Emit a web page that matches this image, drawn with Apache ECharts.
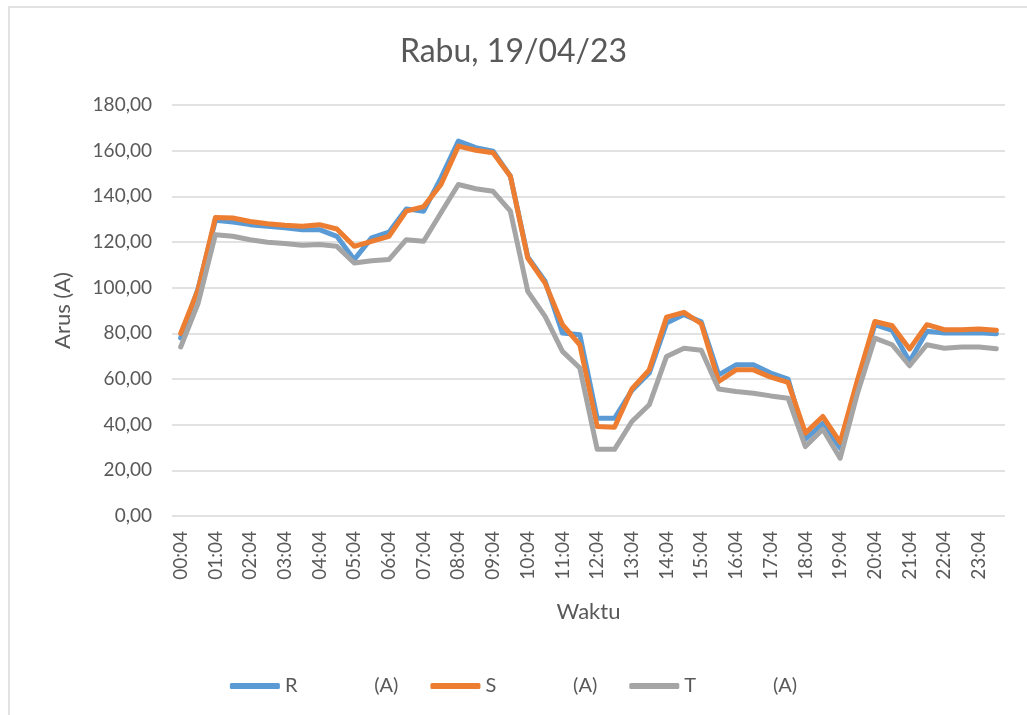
<!DOCTYPE html>
<html>
<head>
<meta charset="utf-8">
<title>Rabu, 19/04/23</title>
<script src="https://cdn.jsdelivr.net/npm/echarts@6/dist/echarts.min.js"></script>
<style>
  html, body { margin: 0; padding: 0; background: #fff; }
  #chart { width: 1027px; height: 715px; }
</style>
</head>
<body>
<div id="chart"></div>
<script>
// waktu pengukuran (tiap 30 menit)
const waktu = [
  '00:04', '00:34', '01:04', '01:34', '02:04', '02:34', '03:04', '03:34',
  '04:04', '04:34', '05:04', '05:34', '06:04', '06:34', '07:04', '07:34',
  '08:04', '08:34', '09:04', '09:34', '10:04', '10:34', '11:04', '11:34',
  '12:04', '12:34', '13:04', '13:34', '14:04', '14:34', '15:04', '15:34',
  '16:04', '16:34', '17:04', '17:34', '18:04', '18:34', '19:04', '19:34',
  '20:04', '20:34', '21:04', '21:34', '22:04', '22:34', '23:04', '23:34'
]

// arus fasa R (A)
const arusR = [
  78.0, 99.5, 129.5, 128.7, 127.6, 126.9, 126.2, 125.4,
  125.4, 122.5, 112.3, 121.8, 124.3, 134.5, 133.5, 148.1,
  164.2, 161.3, 159.8, 148.8, 113.5, 102.8, 80.1, 79.4,
  42.8, 42.8, 55.0, 62.6, 84.5, 88.2, 85.0, 61.8,
  66.2, 66.2, 62.6, 60.0, 33.6, 40.6, 29.7, 58.8,
  83.8, 81.3, 67.7, 80.9, 80.1, 80.1, 80.3, 79.8
]

// arus fasa S (A)
const arusS = [
  80.0, 99.0, 130.7, 130.5, 129.0, 128.0, 127.3, 126.9,
  127.6, 125.7, 118.1, 120.3, 122.5, 133.5, 135.5, 145.2,
  162.0, 160.2, 159.1, 148.8, 113.0, 102.0, 83.8, 75.0,
  39.2, 38.9, 55.6, 64.0, 87.1, 89.2, 84.2, 58.9,
  64.0, 64.0, 60.8, 58.5, 36.3, 43.6, 32.2, 59.6,
  85.2, 83.3, 73.1, 83.8, 81.6, 81.6, 81.9, 81.3
]

// arus fasa T (A)
const arusT = [
  74.0, 93.0, 123.2, 122.5, 121.0, 119.9, 119.3, 118.6,
  118.9, 118.1, 110.8, 111.8, 112.3, 121.0, 120.3, 132.8,
  145.2, 143.3, 142.2, 133.5, 98.4, 87.4, 72.1, 64.8,
  29.2, 29.2, 41.4, 48.7, 69.9, 73.5, 72.6, 55.6,
  54.5, 53.8, 52.6, 51.6, 30.4, 38.0, 25.3, 53.8,
  77.9, 75.0, 65.8, 75.0, 73.5, 74.0, 74.0, 73.2
]

const namaSeri = ['R               (A)', 'S               (A)', 'T               (A)']
const warna = ['#5B9BD5', '#ED7D31', '#A5A5A5']

const fontUtama = 'Lato, "Open Sans", sans-serif'
const abu = '#595959'

const chart = echarts.init(document.getElementById('chart'))

const seri = [arusR, arusS, arusT].map((data, i) => ({
  name: namaSeri[i],
  type: 'line',
  data: data,
  symbol: 'none',
  smooth: false,
  itemStyle: { color: warna[i] },
  lineStyle: { width: 5, color: warna[i], cap: 'round', join: 'round' },
  emphasis: { disabled: true }
}))

const option = {
  backgroundColor: '#fff',
  animation: false,
  textStyle: { fontFamily: fontUtama },
  graphic: [{
    type: 'rect',
    shape: { x: 9, y: 7, width: 1040, height: 740 },
    style: { fill: 'none', stroke: '#d9d9d9', lineWidth: 1.5 },
    silent: true
  }],
  title: {
    text: 'Rabu, 19/04/23',
    left: 'center',
    top: 31,
    textStyle: { fontFamily: fontUtama, fontSize: 32, fontWeight: 'normal', color: abu }
  },
  legend: {
    data: namaSeri,
    bottom: 14,
    left: 'center',
    icon: 'roundRect',
    itemWidth: 50,
    itemHeight: 6,
    itemGap: 32,
    textStyle: { fontFamily: fontUtama, fontSize: 20, color: abu }
  },
  grid: {
    left: 172,
    right: 22,
    top: 105,
    bottom: 199
  },
  xAxis: {
    type: 'category',
    data: waktu,
    boundaryGap: true,
    name: 'Waktu',
    nameLocation: 'middle',
    nameGap: 85,
    nameTextStyle: { fontFamily: fontUtama, fontSize: 22, color: abu },
    axisLine: { show: false },
    axisTick: { show: false },
    axisLabel: {
      interval: 1,
      rotate: 90,
      margin: 15,
      fontSize: 19,
      color: abu,
      fontFamily: fontUtama
    }
  },
  yAxis: {
    type: 'value',
    min: 0,
    max: 180,
    interval: 20,
    name: 'Arus (A)',
    nameLocation: 'middle',
    nameGap: 98,
    nameTextStyle: { fontFamily: fontUtama, fontSize: 22, color: abu },
    axisLine: { show: false },
    axisTick: { show: false },
    axisLabel: {
      margin: 20,
      fontSize: 19,
      color: abu,
      fontFamily: fontUtama,
      formatter: v => v.toFixed(2).replace('.', ',')
    },
    splitLine: { lineStyle: { color: '#d9d9d9', width: 1.5 } }
  },
  series: seri
}

chart.setOption(option)
</script>
</body>
</html>
